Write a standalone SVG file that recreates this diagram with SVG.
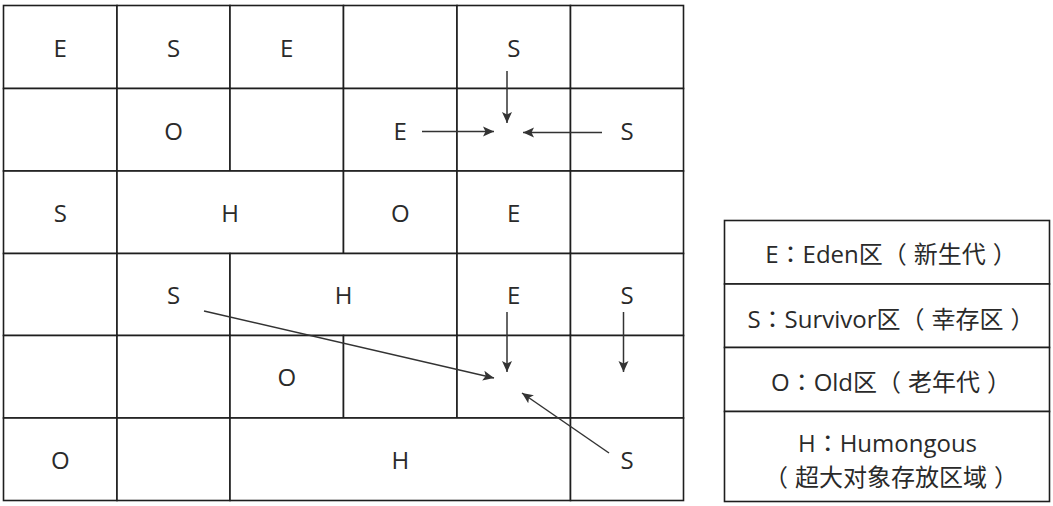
<svg xmlns="http://www.w3.org/2000/svg" width="1053" height="506" viewBox="0 0 1053 506">
<style>
.c{fill:#fff;stroke:#1e1e1e;stroke-width:1.6}
.t{font-family:"Open Sans","Noto Sans CJK SC",sans-serif;font-size:24px;fill:#2a2a2a;text-anchor:middle}
.p{font-family:"Noto Sans CJK TC",sans-serif}
.a{stroke:#333;stroke-width:1.5;fill:none;marker-end:url(#ah)}
</style>
<defs>
<marker id="ah" markerUnits="userSpaceOnUse" markerWidth="12" markerHeight="12" viewBox="0 0 12 12" refX="11" refY="6" orient="auto">
<path d="M0,1 L11,6 L0,11 L2.5,6 z" fill="#333"/>
</marker>
</defs>
<rect width="1053" height="506" fill="#fff"/>
<g id="grid">
<g id="r0c0"><rect class="c" x="3.5" y="5.5" width="113.5" height="83"/><text class="t" x="60.25" y="56.5">E</text></g>
<g id="r0c1"><rect class="c" x="117" y="5.5" width="113" height="83"/><text class="t" x="173.5" y="56.5">S</text></g>
<g id="r0c2"><rect class="c" x="230" y="5.5" width="113.5" height="83"/><text class="t" x="286.75" y="56.5">E</text></g>
<g id="r0c3"><rect class="c" x="343.5" y="5.5" width="113.5" height="83"/></g>
<g id="r0c4"><rect class="c" x="457" y="5.5" width="113.5" height="83"/><text class="t" x="513.75" y="56.5">S</text></g>
<g id="r0c5"><rect class="c" x="570.5" y="5.5" width="113" height="83"/></g>

<g id="r1c0"><rect class="c" x="3.5" y="88.5" width="113.5" height="82.5"/></g>
<g id="r1c1"><rect class="c" x="117" y="88.5" width="113" height="82.5"/><text class="t" x="173.5" y="139.5">O</text></g>
<g id="r1c2"><rect class="c" x="230" y="88.5" width="113.5" height="82.5"/></g>
<g id="r1c3"><rect class="c" x="343.5" y="88.5" width="113.5" height="82.5"/><text class="t" x="400.25" y="139.5">E</text></g>
<g id="r1c4"><rect class="c" x="457" y="88.5" width="113.5" height="82.5"/></g>
<g id="r1c5"><rect class="c" x="570.5" y="88.5" width="113" height="82.5"/><text class="t" x="627" y="139.5">S</text></g>

<g id="r2c0"><rect class="c" x="3.5" y="171" width="113.5" height="82.5"/><text class="t" x="60.25" y="222">S</text></g>
<g id="r2c1"><rect class="c" x="117" y="171" width="226.5" height="82.5"/><text class="t" x="230" y="222">H</text></g>
<g id="r2c3"><rect class="c" x="343.5" y="171" width="113.5" height="82.5"/><text class="t" x="400.25" y="222">O</text></g>
<g id="r2c4"><rect class="c" x="457" y="171" width="113.5" height="82.5"/><text class="t" x="513.75" y="222">E</text></g>
<g id="r2c5"><rect class="c" x="570.5" y="171" width="113" height="82.5"/></g>

<g id="r3c0"><rect class="c" x="3.5" y="253.5" width="113.5" height="82"/></g>
<g id="r3c1"><rect class="c" x="117" y="253.5" width="113" height="82"/><text class="t" x="173.5" y="304">S</text></g>
<g id="r3c2"><rect class="c" x="230" y="253.5" width="227" height="82"/><text class="t" x="343.5" y="304">H</text></g>
<g id="r3c4"><rect class="c" x="457" y="253.5" width="113.5" height="82"/><text class="t" x="513.75" y="304">E</text></g>
<g id="r3c5"><rect class="c" x="570.5" y="253.5" width="113" height="82"/><text class="t" x="627" y="304">S</text></g>

<g id="r4c0"><rect class="c" x="3.5" y="335.5" width="113.5" height="82.5"/></g>
<g id="r4c1"><rect class="c" x="117" y="335.5" width="113" height="82.5"/></g>
<g id="r4c2"><rect class="c" x="230" y="335.5" width="113.5" height="82.5"/><text class="t" x="286.75" y="386">O</text></g>
<g id="r4c3"><rect class="c" x="343.5" y="335.5" width="113.5" height="82.5"/></g>
<g id="r4c4"><rect class="c" x="457" y="335.5" width="113.5" height="82.5"/></g>
<g id="r4c5"><rect class="c" x="570.5" y="335.5" width="113" height="82.5"/></g>

<g id="r5c0"><rect class="c" x="3.5" y="418" width="113.5" height="82.5"/><text class="t" x="60.25" y="469">O</text></g>
<g id="r5c1"><rect class="c" x="117" y="418" width="113" height="82.5"/></g>
<g id="r5c2"><rect class="c" x="230" y="418" width="340.5" height="82.5"/><text class="t" x="400.25" y="469">H</text></g>
<g id="r5c5"><rect class="c" x="570.5" y="418" width="113" height="82.5"/><text class="t" x="627" y="469">S</text></g>
</g>

<g id="connectors">
<line class="a" x1="507" y1="71" x2="507" y2="123"/>
<line class="a" x1="422" y1="131.5" x2="494" y2="131.5"/>
<line class="a" x1="602" y1="132.5" x2="523" y2="132.5"/>
<line class="a" x1="507" y1="312" x2="507" y2="372"/>
<line class="a" x1="623.5" y1="312" x2="623.5" y2="372"/>
<line class="a" x1="204" y1="311" x2="494" y2="378"/>
<line class="a" x1="609" y1="453" x2="522" y2="393"/>
</g>

<g id="legend">
<g id="legend-e"><rect class="c" x="724.5" y="220.5" width="325" height="63.5"/><text class="t" x="891" y="263">E<tspan class="p">：</tspan>Eden区（<tspan dx="7">新生代</tspan><tspan dx="7">）</tspan></text></g>
<g id="legend-s"><rect class="c" x="724.5" y="284" width="325" height="63.5"/><text class="t" x="891" y="328">S<tspan class="p">：</tspan>Survivor区（<tspan dx="7">幸存区</tspan><tspan dx="7">）</tspan></text></g>
<g id="legend-o"><rect class="c" x="724.5" y="347.5" width="325" height="64"/><text class="t" x="891" y="391">O<tspan class="p">：</tspan>Old区（<tspan dx="7">老年代</tspan><tspan dx="7">）</tspan></text></g>
<g id="legend-h"><rect class="c" x="724.5" y="411.5" width="325" height="90"/><text class="t" x="887.5" y="452">H<tspan class="p">：</tspan>Humongous</text><text class="t" x="891" y="486">（<tspan dx="7">超大对象存放区域</tspan><tspan dx="7">）</tspan></text></g>
</g>
</svg>
